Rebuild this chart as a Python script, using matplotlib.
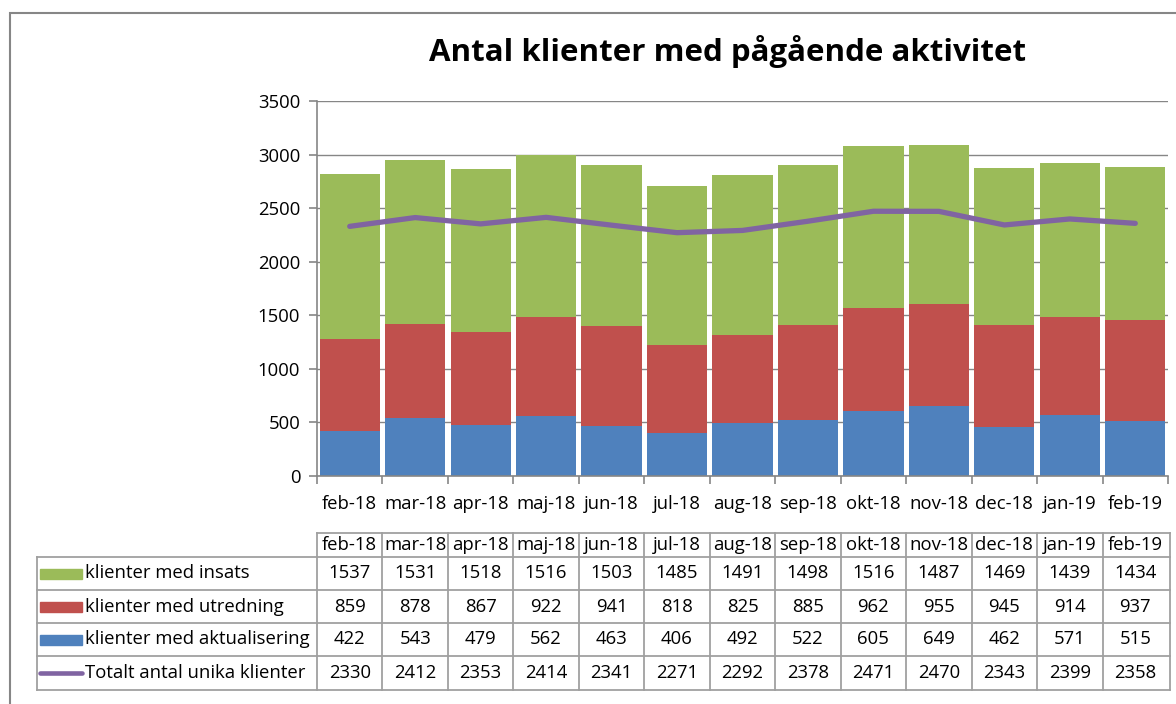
import matplotlib.pyplot as plt
from matplotlib.patches import Rectangle
from matplotlib.lines import Line2D

months = ['feb-18', 'mar-18', 'apr-18', 'maj-18', 'jun-18', 'jul-18', 'aug-18',
          'sep-18', 'okt-18', 'nov-18', 'dec-18', 'jan-19', 'feb-19']
insats = [1537, 1531, 1518, 1516, 1503, 1485, 1491, 1498, 1516, 1487, 1469, 1439, 1434]
utredning = [859, 878, 867, 922, 941, 818, 825, 885, 962, 955, 945, 914, 937]
aktualisering = [422, 543, 479, 562, 463, 406, 492, 522, 605, 649, 462, 571, 515]
totalt = [2330, 2412, 2353, 2414, 2341, 2271, 2292, 2378, 2471, 2470, 2343, 2399, 2358]

names = ['klienter med insats', 'klienter med utredning',
         'klienter med aktualisering', 'Totalt antal unika klienter']
c_green, c_red, c_blue, c_purple = '#9BBB59', '#C0504D', '#4F81BD', '#8064A2'
grey = '#868686'

plt.rcParams['font.family'] = ['Open Sans', 'DejaVu Sans']

W, H = 1176, 704
fig = plt.figure(figsize=(W / 100, H / 100), dpi=100)

# outer chart frame (runs off the right / bottom edges)
fig.patches.append(Rectangle((10 / W, -0.05), 1.1, (H - 13) / H + 0.05,
                             transform=fig.transFigure, fill=False,
                             edgecolor=grey, linewidth=1.5))

fig.text(728 / W, 1 - 52 / H, 'Antal klienter med pågående aktivitet',
         ha='center', va='center', fontsize=22.5, fontweight='bold')

L, R, T, B = 317, 1168, 101, 476
ax = fig.add_axes([L / W, 1 - B / H, (R - L) / W, (B - T) / H])
x = list(range(len(months)))
bw = 0.92
ax.bar(x, aktualisering, bw, color=c_blue, zorder=2)
bot2 = aktualisering
ax.bar(x, utredning, bw, bottom=bot2, color=c_red, zorder=2)
bot3 = [a + b for a, b in zip(aktualisering, utredning)]
ax.bar(x, insats, bw, bottom=bot3, color=c_green, zorder=2)
ax.plot(x, totalt, color=c_purple, linewidth=3.8, zorder=3,
        solid_capstyle='round')

ax.set_xlim(-0.5, len(months) - 0.5)
ax.set_ylim(0, 3500)
ax.set_yticks(range(0, 3501, 500))
ax.yaxis.grid(True, color=grey, linewidth=1)
ax.set_axisbelow(True)
for s in ['top', 'right']:
    ax.spines[s].set_visible(False)
for s in ['left', 'bottom']:
    ax.spines[s].set_color(grey)
    ax.spines[s].set_linewidth(1.2)
ax.set_xticks(x)
ax.set_xticklabels(months, fontsize=13.3)
ax.set_xticks([i - 0.5 for i in range(len(months) + 1)], minor=True)
ax.tick_params(axis='x', which='major', length=0, pad=14)
ax.tick_params(axis='x', which='minor', length=6, color=grey, width=1.2)
ax.tick_params(axis='y', length=6, color=grey, width=1.2, labelsize=13.3, pad=6)

# data table, same column grid as the chart
TT, TB = 533, 690
tax = fig.add_axes([L / W, 1 - TB / H, (R - L) / W, (TB - TT) / H])
tax.set_xlim(-0.5, len(months) - 0.5)
edges = [0, 24, 57, 90, 123, 157]
tax.set_ylim(edges[-1], 0)
tax.axis('off')
xl = -0.5 - (L - 37) / ((R - L) / len(months))
xr = len(months) - 0.5 + 2 / ((R - L) / len(months))
lk = dict(color='#A0A0A0', linewidth=1.3, clip_on=False)
# horizontal lines
tax.plot([-0.5, xr], [edges[0], edges[0]], **lk)
for e in edges[1:]:
    tax.plot([xl, xr], [e, e], **lk)
# vertical lines
tax.plot([xl, xl], [edges[1], edges[-1]], **lk)
for i in range(len(months)):
    tax.plot([i - 0.5, i - 0.5], [edges[0], edges[-1]], **lk)
tax.plot([xr, xr], [edges[0], edges[-1]], **lk)

fs = 13.3
for i, m in enumerate(months):
    tax.text(i, (edges[0] + edges[1]) / 2, m, ha='center', va='center', fontsize=fs)
rows = [insats, utredning, aktualisering, totalt]
cols = [c_green, c_red, c_blue, c_purple]
px = (R - L) / len(months)
for r, (vals, name, col) in enumerate(zip(rows, names, cols)):
    ym = (edges[r + 1] + edges[r + 2]) / 2
    for i, v in enumerate(vals):
        tax.text(i, ym, str(v), ha='center', va='center', fontsize=fs)
    k0 = xl + 3 / px
    k1 = xl + 45 / px
    if r < 3:
        tax.add_patch(Rectangle((k0, ym - 5), k1 - k0, 10, color=col, clip_on=False))
    else:
        tax.add_line(Line2D([k0, k1], [ym, ym], color=col, linewidth=3.3,
                            solid_capstyle='round', clip_on=False))
    tax.text(k1 + 3 / px, ym, name, ha='left', va='center', fontsize=fs)

fig.savefig('out.png', dpi=100)
